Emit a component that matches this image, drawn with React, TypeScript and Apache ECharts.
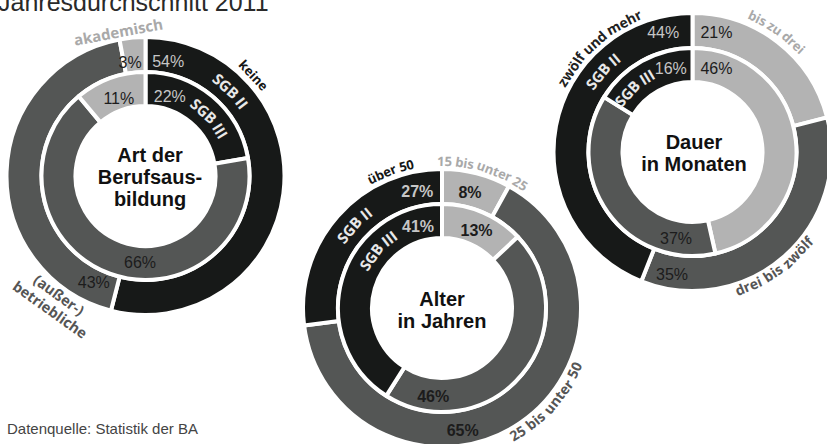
import React, { useEffect, useRef } from 'react';
import * as echarts from 'echarts';

// Ring names: outer ring = SGB II, inner ring = SGB III
const RING_NAMES = ['SGB II', 'SGB III'];

// Art der Berufsausbildung
const ART_CATEGORIES = ['keine', '(außer-) betriebliche', 'akademisch'];
const ART_SGB2 = [54, 43, 3];
const ART_SGB3 = [22, 66, 11];

// Alter in Jahren
const ALTER_CATEGORIES = ['15 bis unter 25', '25 bis unter 50', 'über 50'];
const ALTER_SGB2 = [8, 65, 27];
const ALTER_SGB3 = [13, 46, 41];

// Dauer in Monaten
const DAUER_CATEGORIES = ['bis zu drei', 'drei bis zwölf', 'zwölf und mehr'];
const DAUER_SGB2 = [21, 35, 44];
const DAUER_SGB3 = [46, 37, 16];

const TITLE = 'Jahresdurchschnitt 2011';
const SOURCE = 'Datenquelle: Statistik der BA';

const BLACK = '#171918';
const DARK = '#545655';
const LIGHT = '#b3b3b3';
const TEXT_ON_BLACK = '#c6c6c6';
const TEXT_ON_GREY = '#1c1c1c';
const ARC_FONT = '"Open Sans", "DejaVu Sans", sans-serif';
const MAIN_FONT = '"Liberation Sans", Arial, sans-serif';

type Dir = 'cw' | 'ccw';
interface ArcLabel { text: string; angle: number; r: number; dir: Dir; color: string; size: number }
interface Donut {
  cx: number; cy: number;
  categories: string[]; outer: number[]; inner: number[]; colors: string[];
  title: string; titleX: number; titleY: number; boldPct: boolean;
  outerPct: number[][]; innerPct: number[][];
  arcLabels: ArcLabel[];
}

const OUTER_RADIUS = [104, 139];
const INNER_RADIUS = [70, 104];

const DONUTS: Donut[] = [
  {
    cx: 145.5, cy: 176,
    categories: ART_CATEGORIES, outer: ART_SGB2, inner: ART_SGB3, colors: [BLACK, DARK, LIGHT],
    title: 'Art der\nBerufsaus-\nbildung', titleX: 150, titleY: 177, boldPct: false,
    outerPct: [[11.2, 117], [206, 118], [-7.7, 115]],
    innerPct: [[17, 83], [183.6, 87], [-19, 82]],
    arcLabels: [
      { text: ART_CATEGORIES[2], angle: -10.7, r: 147, dir: 'cw', color: '#a9a9a9', size: 15 },
      { text: ART_CATEGORIES[0], angle: 47, r: 148, dir: 'cw', color: '#161616', size: 13 },
      { text: ART_CATEGORIES[1].split(' ')[0], angle: 216, r: 147, dir: 'ccw', color: '#555555', size: 14.5 },
      { text: ART_CATEGORIES[1].split(' ')[1], angle: 215.5, r: 164, dir: 'ccw', color: '#555555', size: 14.5 },
      { text: RING_NAMES[0], angle: 45, r: 121, dir: 'cw', color: '#e8e8e8', size: 15 },
      { text: RING_NAMES[1], angle: 48, r: 87.5, dir: 'cw', color: '#e8e8e8', size: 15 },
    ],
  },
  {
    cx: 442, cy: 308,
    categories: ALTER_CATEGORIES, outer: ALTER_SGB2, inner: ALTER_SGB3, colors: [LIGHT, DARK, BLACK],
    title: 'Alter\nin Jahren', titleX: 442, titleY: 310, boldPct: true,
    outerPct: [[13.6, 119], [170.4, 124], [-12, 119]],
    innerPct: [[24, 85], [185.7, 89], [-16.5, 84.5]],
    arcLabels: [
      { text: ALTER_CATEGORIES[0], angle: 16.6, r: 147, dir: 'cw', color: '#a9a9a9', size: 13 },
      { text: ALTER_CATEGORIES[2], angle: -20.6, r: 147, dir: 'cw', color: '#161616', size: 13 },
      { text: ALTER_CATEGORIES[1], angle: 132, r: 146, dir: 'ccw', color: '#555555', size: 14 },
      { text: RING_NAMES[0], angle: -46.6, r: 121.5, dir: 'cw', color: '#e8e8e8', size: 15 },
      { text: RING_NAMES[1], angle: -48, r: 87.5, dir: 'cw', color: '#e8e8e8', size: 15 },
    ],
  },
  {
    cx: 692.5, cy: 152,
    categories: DAUER_CATEGORIES, outer: DAUER_SGB2, inner: DAUER_SGB3, colors: [LIGHT, DARK, BLACK],
    title: 'Dauer\nin Monaten', titleX: 694, titleY: 153, boldPct: false,
    outerPct: [[11.3, 122], [189.5, 124], [-13.8, 123]],
    innerPct: [[16, 87], [190.8, 88], [-14.5, 86.5]],
    arcLabels: [
      { text: DAUER_CATEGORIES[0], angle: 35, r: 149, dir: 'cw', color: '#a9a9a9', size: 13 },
      { text: DAUER_CATEGORIES[2], angle: -41.8, r: 147, dir: 'cw', color: '#222222', size: 14 },
      { text: DAUER_CATEGORIES[1], angle: 144.6, r: 145, dir: 'ccw', color: '#555555', size: 14 },
      { text: RING_NAMES[0], angle: -48, r: 121.5, dir: 'cw', color: '#e8e8e8', size: 15 },
      { text: RING_NAMES[1], angle: -42, r: 88, dir: 'cw', color: '#e8e8e8', size: 15 },
    ],
  },
];

const measureCtx = (() => {
  if (typeof document === 'undefined') return null;
  return document.createElement('canvas').getContext('2d');
})();

function measure(text: string, font: string, size: number): number {
  if (!measureCtx) return text.length * size * 0.55;
  measureCtx.font = font;
  return measureCtx.measureText(text).width;
}

function polar(cx: number, cy: number, angleDeg: number, r: number) {
  const a = (angleDeg * Math.PI) / 180;
  return { x: cx + r * Math.sin(a), y: cy - r * Math.cos(a) };
}

// Lay the words of a label along an arc, each word rotated to the tangent.
function arcWords(cx: number, cy: number, l: ArcLabel) {
  const font = `bold ${l.size}px ${ARC_FONT}`;
  const words = l.text.split(' ');
  const space = measure(' ', font, l.size);
  const widths = words.map((w) => measure(w, font, l.size));
  const total = widths.reduce((a, b) => a + b, 0) + space * (words.length - 1);
  const sign = l.dir === 'cw' ? 1 : -1;
  let offset = -total / 2;
  return words.map((w, i) => {
    const mid = offset + widths[i] / 2;
    offset += widths[i] + space;
    const deg = l.angle + sign * (mid / l.r) * (180 / Math.PI);
    const rad = (deg * Math.PI) / 180;
    const p = polar(cx, cy, deg, l.r);
    const rotation = l.dir === 'cw' ? -rad : -(rad - Math.PI);
    return {
      type: 'text', x: p.x, y: p.y, rotation, silent: true, z: 100,
      style: { text: w, fill: l.color, font, align: 'center', verticalAlign: 'middle' },
    };
  });
}

function pctTexts(d: Donut, values: number[], placement: number[][]) {
  return values.map((v, i) => {
    const p = polar(d.cx, d.cy, placement[i][0], placement[i][1]);
    const onBlack = d.colors[i] === BLACK;
    return {
      type: 'text', x: p.x, y: p.y, silent: true, z: 100,
      style: {
        text: `${v}%`,
        fill: onBlack ? TEXT_ON_BLACK : TEXT_ON_GREY,
        font: `${d.boldPct ? 'bold ' : ''}16px ${MAIN_FONT}`,
        align: 'center', verticalAlign: 'middle',
      },
    };
  });
}

function ringSeries(d: Donut, values: number[], radius: number[], name: string) {
  return {
    type: 'pie', name, center: [d.cx, d.cy], radius, startAngle: 90, clockwise: true,
    silent: true, avoidLabelOverlap: false, z: 1,
    label: { show: false }, labelLine: { show: false },
    emphasis: { disabled: true },
    itemStyle: { borderColor: '#ffffff', borderWidth: 4 },
    data: values.map((v, i) => ({ name: d.categories[i], value: v, itemStyle: { color: d.colors[i] } })),
  };
}

function buildOption() {
  const series: any[] = [];
  const graphics: any[] = [];
  DONUTS.forEach((d) => {
    series.push(ringSeries(d, d.outer, OUTER_RADIUS, RING_NAMES[0]));
    series.push(ringSeries(d, d.inner, INNER_RADIUS, RING_NAMES[1]));
    graphics.push(...pctTexts(d, d.outer, d.outerPct));
    graphics.push(...pctTexts(d, d.inner, d.innerPct));
    d.arcLabels.forEach((l) => graphics.push(...arcWords(d.cx, d.cy, l)));
    graphics.push({
      type: 'text', x: d.titleX, y: d.titleY, silent: true, z: 100,
      style: {
        text: d.title, fill: '#111111', font: `bold 20px ${MAIN_FONT}`, lineHeight: 22,
        align: 'center', verticalAlign: 'middle',
      },
    });
  });
  graphics.push({
    type: 'text', x: -2, y: 1.5, silent: true, z: 100,
    style: { text: TITLE, fill: '#2a2a2a', font: `25px ${MAIN_FONT}`, align: 'left', verticalAlign: 'middle' },
  });
  graphics.push({
    type: 'text', x: 7, y: 428.5, silent: true, z: 100,
    style: { text: SOURCE, fill: '#444444', font: `15px ${MAIN_FONT}`, align: 'left', verticalAlign: 'middle' },
  });
  return {
    animation: false,
    backgroundColor: '#ffffff',
    series,
    graphic: { elements: graphics },
  };
}

export default function App() {
  const ref = useRef<HTMLDivElement>(null);
  useEffect(() => {
    if (!ref.current) return;
    const chart = echarts.init(ref.current, null, { renderer: 'svg' });
    chart.setOption(buildOption() as any);
    return () => chart.dispose();
  }, []);
  return (
    <div
      ref={ref}
      style={{ position: 'fixed', left: 0, top: 0, width: 827, height: 444, background: '#ffffff' }}
    />
  );
}
